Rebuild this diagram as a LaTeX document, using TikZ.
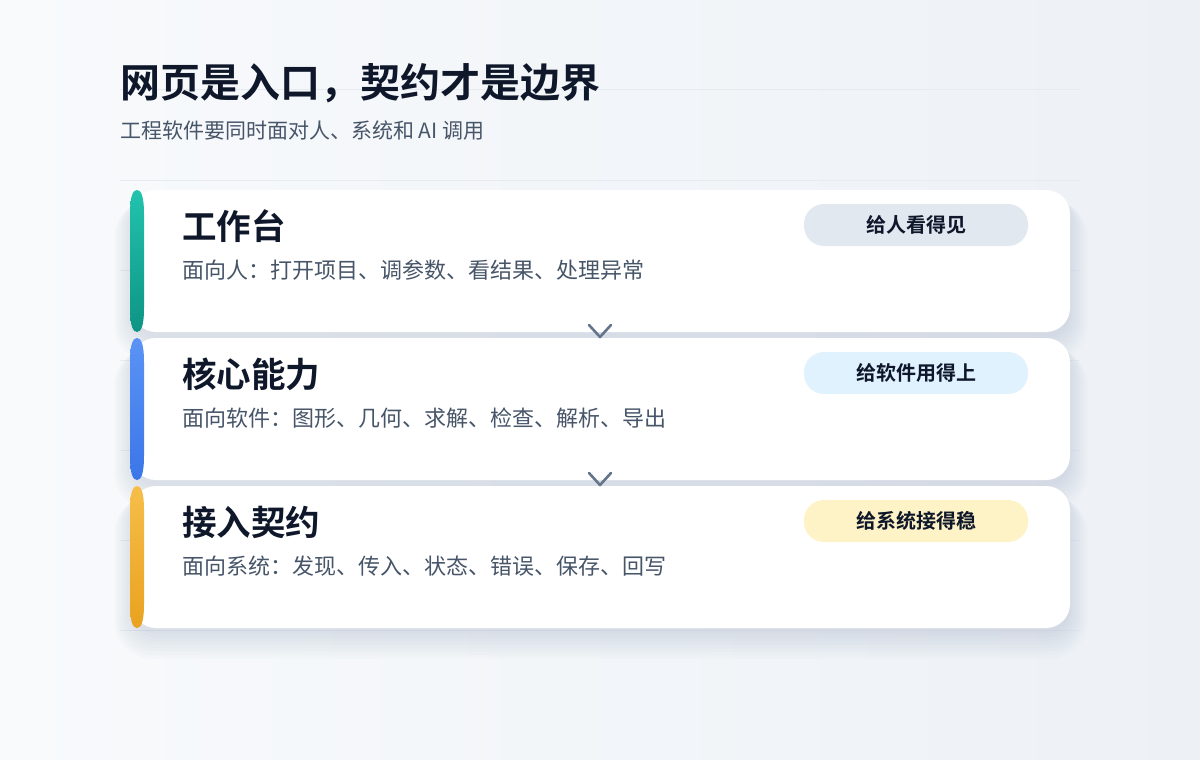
\documentclass[tikz,border=0pt]{standalone}
\usepackage{fontspec}
\newfontfamily\cjk[BoldFont={Noto Sans CJK SC Bold}]{Noto Sans CJK SC}
\usetikzlibrary{calc}
\definecolor{bgA}{HTML}{F8FAFC}
\definecolor{bgB}{HTML}{EDF1F6}
\definecolor{ink}{HTML}{0F172A}
\definecolor{mute}{HTML}{475569}
\definecolor{chev}{HTML}{64748B}
\definecolor{gridc}{HTML}{E6EBF1}
\definecolor{shad}{HTML}{8A99B4}
\definecolor{badgeA}{HTML}{E2E8F0}
\definecolor{badgeB}{HTML}{E0F2FE}
\definecolor{badgeC}{HTML}{FEF3C7}
\definecolor{tealA}{HTML}{22C3AE}
\definecolor{tealB}{HTML}{0E9484}
\definecolor{blueA}{HTML}{5B93F5}
\definecolor{blueB}{HTML}{3B76E8}
\definecolor{ambA}{HTML}{F6BE4A}
\definecolor{ambB}{HTML}{E9A21F}
\tikzset{
  titletext/.style={anchor=base west,inner sep=0pt,font=\cjk\bfseries\fontsize{40}{46}\selectfont,text=ink},
  subtext/.style={anchor=base west,inner sep=0pt,font=\cjk\fontsize{21}{25}\selectfont,text=mute},
  cardtitle/.style={anchor=base west,inner sep=0pt,font=\cjk\bfseries\fontsize{34.5}{40}\selectfont,text=ink},
  carddesc/.style={anchor=base west,inner sep=0pt,font=\cjk\fontsize{22}{26}\selectfont,text=mute},
  badgetext/.style={anchor=base,inner sep=0pt,font=\cjk\bfseries\fontsize{20}{24}\selectfont,text=ink},
  cardbox/.style={fill=white,rounded corners=24pt},
  badgebox/.style={rounded corners=20pt},
  chevron/.style={draw=chev,line width=2.6pt,line cap=round,line join=round},
  gridline/.style={draw=gridc,line width=1pt}
}
\begin{document}
\begin{tikzpicture}[x=1pt,y=-1pt]
\shade[left color=bgA,right color=bgB] (0,0) rectangle (1200,760);
\useasboundingbox (0,0) rectangle (1200,760);
% faint guide lines
\foreach \yy in {90,180,270,360,450,540,630}
  \draw[gridline] (120,\yy) -- (1080,\yy);

% shadows
\foreach \y in {190,338,486}{
  \foreach \i in {0,...,7}
    \fill[shad,opacity=0.03,rounded corners={24pt+\i*2pt}]
      (132-\i*2.5,\y+6+\i*0.5) rectangle (1070+\i*2.5,\y+148+\i*3.5);
}

% card 1
\fill[cardbox] (132,190) rectangle (1070,332);
\shade[top color=tealA,bottom color=tealB]
  (130,214) .. controls (130,196) and (133,190) .. (137,190)
  .. controls (141,190) and (144,196) .. (144,214) -- (144,308)
  .. controls (144,326) and (141,332) .. (137,332)
  .. controls (133,332) and (130,326) .. (130,308) -- cycle;
\node[cardtitle] (t1) at (182,239) {工作台};
\node[carddesc] (d1) at (182,278) {面向人：打开项目、调参数、看结果、处理异常};
\fill[badgebox,fill=badgeA] (804,204) rectangle (1028,246);
\node[badgetext] (b1) at (916,232.5) {给人看得见};

% card 2
\fill[cardbox] (132,338) rectangle (1070,480);
\shade[top color=blueA,bottom color=blueB]
  (130,362) .. controls (130,344) and (133,338) .. (137,338)
  .. controls (141,338) and (144,344) .. (144,362) -- (144,456)
  .. controls (144,474) and (141,480) .. (137,480)
  .. controls (133,480) and (130,474) .. (130,456) -- cycle;
\node[cardtitle] (t2) at (182,387) {核心能力};
\node[carddesc] (d2) at (182,426) {面向软件：图形、几何、求解、检查、解析、导出};
\fill[badgebox,fill=badgeB] (804,352) rectangle (1028,394);
\node[badgetext] (b2) at (916,380.5) {给软件用得上};

% card 3
\fill[cardbox] (132,486) rectangle (1070,628);
\shade[top color=ambA,bottom color=ambB]
  (130,510) .. controls (130,492) and (133,486) .. (137,486)
  .. controls (141,486) and (144,492) .. (144,510) -- (144,604)
  .. controls (144,622) and (141,628) .. (137,628)
  .. controls (133,628) and (130,622) .. (130,604) -- cycle;
\node[cardtitle] (t3) at (182,535) {接入契约};
\node[carddesc] (d3) at (182,574) {面向系统：发现、传入、状态、错误、保存、回写};
\fill[badgebox,fill=badgeC] (804,500) rectangle (1028,542);
\node[badgetext] (b3) at (916,528.5) {给系统接得稳};

% chevrons
\coordinate (c1a) at (589,325); \coordinate (c1b) at (600,337); \coordinate (c1c) at (611,325);
\draw[chevron] (c1a) -- (c1b) -- (c1c);
\coordinate (c2a) at (589,473); \coordinate (c2b) at (600,485); \coordinate (c2c) at (611,473);
\draw[chevron] (c2a) -- (c2b) -- (c2c);

% header
\node[titletext] (title) at (120,98) {网页是入口，契约才是边界};
\node[subtext] (sub) at (120,138) {工程软件要同时面对人、系统和 AI 调用};
\end{tikzpicture}
\end{document}
